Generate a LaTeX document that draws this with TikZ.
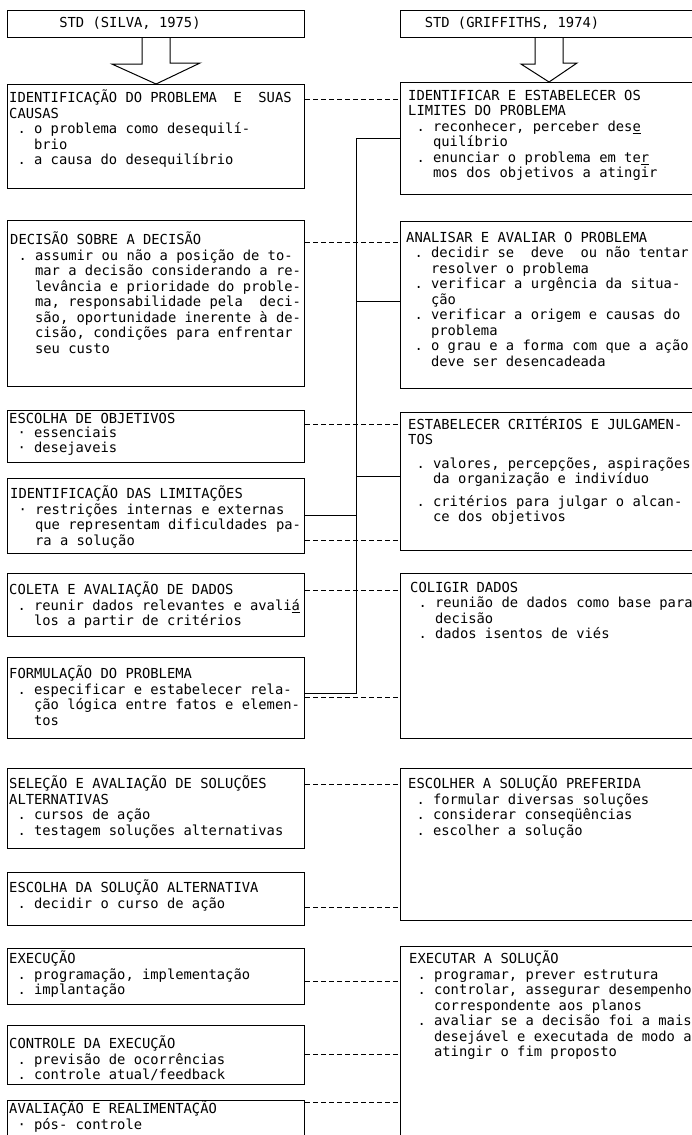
\documentclass[tikz,border=0pt]{standalone}
\usepackage{fontspec}
\setmainfont{DejaVu Sans Mono}
\newcommand{\dotit}{\hphantom{x}.\hphantom{x}}
\newcommand{\midit}{\hphantom{x}·\hphantom{x}}
\newcommand{\contl}{\hphantom{xxx}}
\begin{document}
\begin{tikzpicture}[x=1pt,y=-1pt,
  box/.style={draw,line width=1.1pt,inner sep=0pt,anchor=north west},
  txt/.style={anchor=north west,inner sep=0pt,align=left,
    font=\fontsize{13.8}{15.5}\selectfont,
    execute at begin node={\rule{0pt}{13pt}}},
  head/.style={inner sep=0pt,font=\fontsize{13.8}{15.5}\selectfont},
  link/.style={line width=0.9pt,dash pattern=on 5pt off 3pt},
  tie/.style={line width=1pt}]
\useasboundingbox (0,0) rectangle (692,1135);

% headers
\node[box,minimum width=297pt,minimum height=27pt] (hl) at (7,10) {};
\node[box,minimum width=297pt,minimum height=27pt] (hr) at (400,10) {};
\node[head] (hlt) at (130,23.5) {STD (SILVA, 1975)};
\node[head] (hrt) at (512,23.5) {STD (GRIFFITHS, 1974)};

% left column
\node[box,minimum width=297pt,minimum height=104pt] (l1) at (7,84) {};
\node[box,minimum width=297pt,minimum height=166pt] (l2) at (7,220) {};
\node[box,minimum width=297pt,minimum height=52pt] (l3) at (7,410) {};
\node[box,minimum width=297pt,minimum height=75pt] (l4) at (7,478) {};
\node[box,minimum width=297pt,minimum height=63pt] (l5) at (7,573) {};
\node[box,minimum width=297pt,minimum height=81pt] (l6) at (7,657) {};
\node[box,minimum width=297pt,minimum height=80pt] (l7) at (7,768) {};
\node[box,minimum width=297pt,minimum height=53pt] (l8) at (7,872) {};
\node[box,minimum width=297pt,minimum height=56pt] (l9) at (7,948) {};
\node[box,minimum width=297pt,minimum height=59pt] (l10) at (7,1025) {};
\node[box,minimum width=297pt,minimum height=45pt] (l11) at (7,1100) {};

% right column
\node[box,minimum width=297pt,minimum height=112pt] (r1) at (400,82) {};
\node[box,minimum width=297pt,minimum height=167pt] (r2) at (400,221) {};
\node[box,minimum width=297pt,minimum height=138pt] (r3) at (400,412) {};
\node[box,minimum width=297pt,minimum height=165pt] (r5) at (400,573) {};
\node[box,minimum width=297pt,minimum height=152pt] (r7) at (400,768) {};
\node[box,minimum width=297pt,minimum height=200pt] (r9) at (400,946) {};

% open arrows under the headers
\draw[tie] ([xshift=-14pt]hl.south) -- ++(0,26) -- ++(-30,0) -- (l1.north)
  -- ++(44,-21) -- ++(-30,0) -- ([xshift=14pt]hl.south);
\draw[tie] ([xshift=-14pt]hr.south) -- ++(0,26) -- ++(-14,0) -- (r1.north)
  -- ++(28,-19) -- ++(-14,0) -- ([xshift=14pt]hr.south);

% texts
\node[txt] (l1t) at (9,90) {IDENTIFICAÇÃO DO PROBLEMA\ \ E\ \ SUAS\\
CAUSAS\\
\dotit o problema como desequilí-\\
\contl brio\\
\dotit a causa do desequilíbrio};
\node[txt] (l2t) at (10,232) {DECISÃO SOBRE A DECISÃO\\
\dotit assumir ou não a posição de to-\\
\contl mar a decisão considerando a re-\\
\contl levância e prioridade do proble-\\
\contl ma, responsabilidade pela\ \ deci-\\
\contl são, oportunidade inerente à de-\\
\contl cisão, condições para enfrentar\\
\contl seu custo};
\node[txt,font=\fontsize{13.8}{14.5}\selectfont] (l3t) at (9,413) {ESCOLHA DE OBJETIVOS\\
\midit essenciais\\
\midit desejaveis};
\node[txt] (l4t) at (10,486) {IDENTIFICAÇÃO DAS LIMITAÇÕES\\
\midit restrições internas e externas\\
\contl que representam dificuldades pa-\\
\contl ra a solução};
\node[txt] (l5t) at (9,582) {COLETA E AVALIAÇÃO DE DADOS\\
\dotit reunir dados relevantes e avali\underline{á}\\
\contl los a partir de critérios};
\node[txt] (l6t) at (9,666) {FORMULAÇÃO DO PROBLEMA\\
\dotit especificar e estabelecer rela-\\
\contl ção lógica entre fatos e elemen-\\
\contl tos};
\node[txt] (l7t) at (9,776) {SELEÇÃO E AVALIAÇÃO DE SOLUÇÕES\\
ALTERNATIVAS\\
\dotit cursos de ação\\
\dotit testagem soluções alternativas};
\node[txt] (l8t) at (9,880) {ESCOLHA DA SOLUÇÃO ALTERNATIVA\\
\dotit decidir o curso de ação};
\node[txt] (l9t) at (9,951) {EXECUÇÃO\\
\dotit programação, implementação\\
\dotit implantação};
\node[txt,font=\fontsize{13.8}{15.3}\selectfont] (l10t) at (9,1036) {CONTROLE DA EXECUÇÃO\\
\dotit previsão de ocorrências\\
\dotit controle atual/feedback};
\node[txt] (l11t) at (9,1101) {AVALIAÇÃO E REALIMENTAÇÃO\\
\midit pós- controle};

\node[txt] (r1t) at (408,90) {IDENTIFICAR E ESTABELECER OS\\
LIMITES DO PROBLEMA\\
\dotit reconhecer, perceber des\underline{e}\\
\contl quilíbrio\\
\dotit enunciar o problema em te\underline{r}\\
\contl mos dos objetivos a atingir};
\node[txt] (r2t) at (406,232) {ANALISAR E AVALIAR O PROBLEMA\\
\dotit decidir se\ \ deve\ \ ou não tentar\\
\contl resolver o problema\\
\dotit verificar a urgência da situa-\\
\contl ção\\
\dotit verificar a origem e causas do\\
\contl problema\\
\dotit o grau e a forma com que a ação\\
\contl deve ser desencadeada};
\node[txt] (r3t) at (408,416) {ESTABELECER CRITÉRIOS E JULGAMEN-\\
TOS\\[8pt]
\dotit valores, percepções, aspirações\\
\contl da organização e indivíduo\\[7pt]
\dotit critérios para julgar o alcan-\\
\contl ce dos objetivos};
\node[txt] (r5t) at (410,582) {COLIGIR DADOS\\
\dotit reunião de dados como base para\\
\contl decisão\\
\dotit dados isentos de viés};
\node[txt] (r7t) at (408,776) {ESCOLHER A SOLUÇÃO PREFERIDA\\
\dotit formular diversas soluções\\
\dotit considerar conseqüências\\
\dotit escolher a solução};
\node[txt] (r9t) at (409,951) {EXECUTAR A SOLUÇÃO\\
\dotit programar, prever estrutura\\
\dotit controlar, assegurar desempenho\\
\contl correspondente aos planos\\
\dotit avaliar se a decisão foi a mais\\
\contl desejável e executada de modo a\\
\contl atingir o fim proposto};

% solid trunk
\coordinate (top) at (356,138);
\coordinate (bot) at (356,693);
\coordinate (h2) at (356,301);
\coordinate (h3) at (356,476);
\coordinate (h4) at (356,515);
\draw[tie] (r1.west |- top) -- (top) -- (bot) -- (l6.east |- bot);
\draw[tie] (h2) -- (r2.west |- h2);
\draw[tie] (h3) -- (r3.west |- h3);
\draw[tie] (l4.east |- h4) -- (h4);

% dashed links
\coordinate (d1) at (0,99);
\coordinate (d2) at (0,242);
\coordinate (d3) at (0,424);
\coordinate (d4) at (0,540);
\coordinate (d5) at (0,590);
\coordinate (d6) at (0,697);
\coordinate (d7) at (0,784);
\coordinate (d8) at (0,907);
\coordinate (d9) at (0,981);
\coordinate (d10) at (0,1054);
\coordinate (d11) at (0,1102);
\draw[link] (l1.east |- d1) -- (r1.west |- d1);
\draw[link] (l2.east |- d2) -- (r2.west |- d2);
\draw[link] (l3.east |- d3) -- (r3.west |- d3);
\draw[link] (l4.east |- d4) -- (r3.west |- d4);
\draw[link] (l5.east |- d5) -- (r5.west |- d5);
\draw[link] (l6.east |- d6) -- (r5.west |- d6);
\draw[link] (l7.east |- d7) -- (r7.west |- d7);
\draw[link] (l8.east |- d8) -- (r7.west |- d8);
\draw[link] (l9.east |- d9) -- (r9.west |- d9);
\draw[link] (l10.east |- d10) -- (r9.west |- d10);
\draw[link] (l11.east |- d11) -- (r9.west |- d11);
\end{tikzpicture}
\end{document}
